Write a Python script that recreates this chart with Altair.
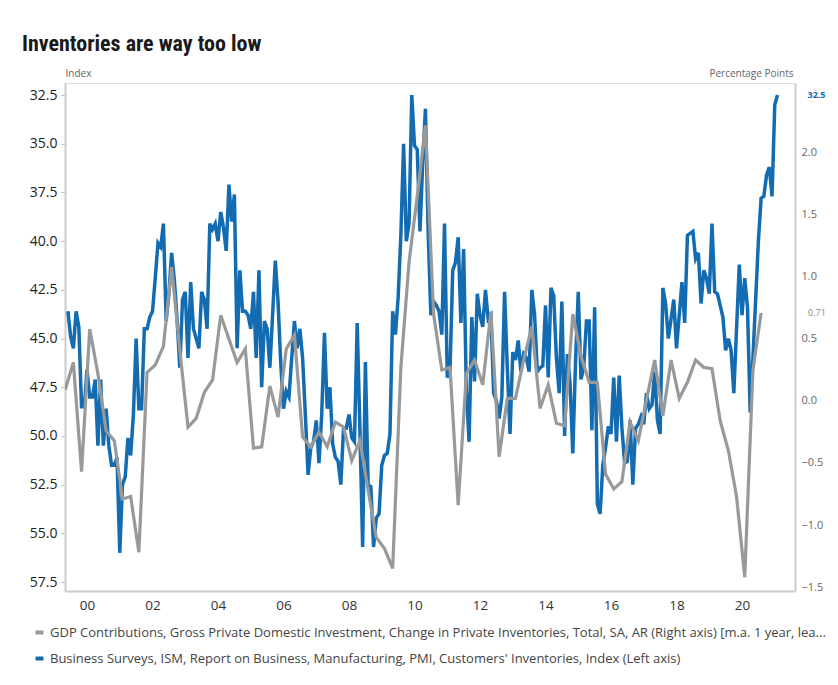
import altair as alt
import pandas as pd

TITLE = "Inventories are way too low"
GRAY_NAME = ("GDP Contributions, Gross Private Domestic Investment, Change in Private Inventories, "
             "Total, SA, AR (Right axis) [m.a. 1 year, lea...")
BLUE_NAME = ("Business Surveys, ISM, Report on Business, Manufacturing, PMI, "
             "Customers' Inventories, Index (Left axis)")
LEFT_TITLE = "Index"
RIGHT_TITLE = "Percentage Points"

BLUE = "#136cb2"
GRAY = "#999999"

# ISM customers' inventories, monthly, from Dec 1999
BLUE_START = "1999-12-01"
blue_values = [
    43.6,
    44.9, 45.5, 43.6, 44.4, 48.5, 48.5, 46.6, 48.0, 48.0, 47.1, 50.5, 47.1,   # 2000
    50.5, 48.6, 50.5, 51.5, 51.5, 51.1, 56.0, 52.5, 52.1, 50.1, 51.0, 48.9,   # 2001
    45.0, 48.6, 48.6, 44.5, 44.5, 43.9, 43.6, 41.9, 40.1, 40.3, 39.1, 44.1,   # 2002
    42.7, 40.6, 42.0, 44.0, 46.5, 43.0, 42.6, 46.0, 42.1, 44.5, 45.0, 45.5,   # 2003
    42.6, 43.0, 44.5, 39.1, 39.4, 39.1, 40.0, 38.5, 39.3, 40.5, 37.1, 39.0,   # 2004
    37.6, 45.5, 41.5, 43.6, 43.6, 43.8, 44.5, 42.6, 46.0, 41.5, 47.5, 44.1,   # 2005
    44.5, 46.5, 43.8, 41.0, 43.1, 46.3, 48.6, 47.7, 48.0, 46.0, 44.1, 45.5,   # 2006
    44.5, 46.0, 48.9, 52.0, 50.6, 50.3, 49.2, 51.4, 48.9, 44.7, 48.6, 47.5,   # 2007
    50.4, 51.1, 51.3, 52.5, 49.6, 49.6, 48.9, 50.1, 50.3, 44.2, 49.7, 55.7,   # 2008
    46.2, 52.5, 52.6, 55.7, 54.2, 54.0, 51.5, 51.0, 50.9, 49.9, 43.6, 44.8,   # 2009
    42.9, 39.7, 35.0, 40.0, 39.1, 32.5, 35.1, 35.3, 39.5, 36.0, 33.2, 39.5,   # 2010
    43.8, 43.1, 43.3, 43.6, 44.8, 39.1, 47.0, 46.7, 41.5, 41.1, 39.8, 44.2,   # 2011
    40.4, 47.7, 50.3, 43.9, 47.2, 42.7, 43.8, 44.4, 42.5, 44.0, 43.8, 47.8,   # 2012
    48.2, 49.1, 48.0, 42.6, 46.5, 49.9, 45.7, 46.1, 45.1, 46.7, 45.8, 46.0,   # 2013
    46.7, 42.5, 43.8, 46.7, 46.5, 46.4, 43.3, 47.0, 42.4, 42.8, 46.0, 47.8,   # 2014
    43.1, 50.0, 45.8, 47.3, 50.9, 46.2, 42.6, 47.1, 46.5, 44.1, 44.1, 49.7,   # 2015
    43.4, 53.5, 54.0, 51.5, 50.6, 49.5, 49.9, 47.0, 50.3, 46.9, 49.6, 51.4,   # 2016
    51.3, 49.2, 52.5, 49.6, 49.4, 49.0, 49.4, 47.8, 48.6, 48.4, 46.7, 49.2,   # 2017
    49.9, 42.4, 43.2, 45.0, 44.0, 43.0, 45.5, 43.8, 42.1, 44.2, 39.7, 39.6,   # 2018
    39.5, 40.9, 40.6, 43.2, 41.5, 41.9, 42.7, 39.1, 42.6, 42.7, 43.3, 43.9,   # 2019
    45.6, 45.0, 45.6, 47.8, 44.5, 41.2, 43.8, 41.9, 43.4, 48.8, 46.0, 43.0,   # 2020
    40.0, 37.8, 37.7, 36.6, 36.2, 37.7, 33.0, 32.5,                           # 2021
]

# GDP contribution of inventories, quarterly points, from Nov 1999
GRAY_START = "1999-11-01"
gray_values = [
    0.09, 0.31, -0.57, 0.58, 0.22, -0.24, -0.32, -0.79, -0.77, -1.22,
    0.23, 0.29, 0.44, 1.08, 0.41, -0.21, -0.14, 0.07, 0.17, 0.69,
    0.50, 0.31, 0.42, -0.38, -0.37, 0.12, -0.13, 0.42, 0.53, -0.29,
    -0.37, -0.25, -0.37, -0.17, -0.21, -0.48, -0.32, -0.72, -1.10, -1.19,
    -1.35, 0.27, 1.12, 1.65, 2.22, 0.70, 0.25, 0.27, -0.84, 0.22,
    0.33, 0.13, 0.72, -0.45, 0.02, 0.02, 0.33, 0.60, -0.06, 0.13,
    -0.18, -0.20, 0.70, 0.36, 0.15, 0.15, -0.59, -0.71, -0.65, -0.17,
    -0.32, 0.01, 0.33, -0.12, 0.33, 0.02, 0.15, 0.33, 0.27, 0.26,
    -0.16, -0.40, -0.77, -1.42, 0.25, 0.71,
]

x_ticks = [2000.5, 2002.5, 2004.5, 2006.5, 2008.5, 2010.5, 2012.5, 2014.5, 2016.5, 2018.5, 2020.5]
left_ticks = [32.5, 35.0, 37.5, 40.0, 42.5, 45.0, 47.5, 50.0, 52.5, 55.0, 57.5]
right_ticks = [-1.5, -1.0, -0.5, 0.0, 0.5, 1.0, 1.5, 2.0]


def decimal_years(start, n, step):
    d = pd.date_range(start=start, periods=n, freq=f"{step}MS")
    return d.year + (d.month - 1) / 12.0


blue_df = pd.DataFrame({"t": decimal_years(BLUE_START, len(blue_values), 1),
                        "v": blue_values, "series": BLUE_NAME})
gray_df = pd.DataFrame({"t": decimal_years(GRAY_START, len(gray_values), 3),
                        "v": gray_values, "series": GRAY_NAME})
blue_last = blue_df.tail(1).assign(label=lambda d: d["v"].map(lambda x: f"{x:.1f}"))
gray_last = gray_df.tail(1).assign(label=lambda d: d["v"].map(lambda x: f"{x:.2f}"))

FONT = "Open Sans"

x_enc = alt.X(
    "t:Q",
    scale=alt.Scale(domain=[1999.828, 2022.118], nice=False, zero=False),
    axis=alt.Axis(values=x_ticks, labelExpr="substring(toString(floor(datum.value)), 2, 4)",
                  title=None, grid=False, ticks=False, labelFlush=False,
                  domainColor="#cccccc", domainWidth=2,
                  labelFont=FONT, labelFontSize=13.5, labelColor="#333333", labelPadding=7),
)

left_axis = alt.Axis(values=left_ticks, format=".1f", grid=False, title=LEFT_TITLE,
                     titleAngle=0, titleX=0, titleY=-5, titleAlign="left", titleBaseline="bottom",
                     titleFont=FONT, titleFontSize=10, titleFontWeight="normal", titleColor="#666666",
                     domainColor="#cccccc", domainWidth=2, tickColor="#bbbbbb", tickSize=4,
                     labelFont=FONT, labelFontSize=14, labelColor="#222222", labelPadding=4)
right_axis = alt.Axis(orient="right", values=right_ticks, format=".1f", grid=False, title=RIGHT_TITLE,
                      titleAngle=0, titleX=-2, titleY=-5, titleAlign="right", titleBaseline="bottom",
                      titleFont=FONT, titleFontSize=10, titleFontWeight="normal", titleColor="#666666",
                      domainColor="#cccccc", domainWidth=2, ticks=False,
                      labelFont=FONT, labelFontSize=11, labelColor="#666666", labelPadding=6)

y_left = alt.Y("v:Q", scale=alt.Scale(domain=[31.88, 57.96], reverse=True, nice=False, zero=False),
               axis=left_axis)
y_right = alt.Y("v:Q", scale=alt.Scale(domain=[-1.532, 2.563], nice=False, zero=False),
                axis=right_axis)

color_enc = alt.Color(
    "series:N",
    scale=alt.Scale(domain=[GRAY_NAME, BLUE_NAME], range=[GRAY, BLUE]),
    legend=alt.Legend(title=None, orient="none", legendX=-32, legendY=543, direction="vertical",
                      symbolType="stroke", symbolSize=64, symbolStrokeWidth=4,
                      labelFont=FONT, labelFontSize=13, labelColor="#444444", labelLimit=900,
                      rowPadding=9, labelOffset=4, padding=0),
)

blue_line = alt.Chart(blue_df).mark_line(strokeWidth=3.5, clip=True).encode(
    x=x_enc, y=y_left, color=color_enc)
blue_text = alt.Chart(blue_last).mark_text(align="left", baseline="middle", dx=30, fontSize=9,
                                           font=FONT, fontWeight="bold", color=BLUE).encode(
    x=x_enc, y=y_left, text="label:N")

gray_line = alt.Chart(gray_df).mark_line(strokeWidth=3.2, clip=True).encode(
    x=x_enc, y=y_right, color=color_enc)
gray_text = alt.Chart(gray_last).mark_text(align="left", baseline="middle", dx=47, fontSize=9,
                                           font=FONT, color="#888888").encode(
    x=x_enc, y=y_right, text="label:N")

chart = alt.layer(
    alt.layer(blue_line, blue_text),
    alt.layer(gray_line, gray_text),
).resolve_scale(y="independent").properties(
    width=730,
    height=508,
    autosize=alt.AutoSizeParams(type="none"),
    padding={"left": 65, "top": 83, "right": 43, "bottom": 94},
    title=alt.TitleParams(text=TITLE, anchor="start", frame="group", dx=-43, offset=12,
                          font="Roboto Condensed, Liberation Sans Narrow, Arial Narrow, Roboto",
                          fontSize=22, fontWeight="bold", color="#1a1a1a"),
).configure_view(stroke=None).configure(background="white")

chart.save("out.html", embed_options={"renderer": "svg", "actions": False})
